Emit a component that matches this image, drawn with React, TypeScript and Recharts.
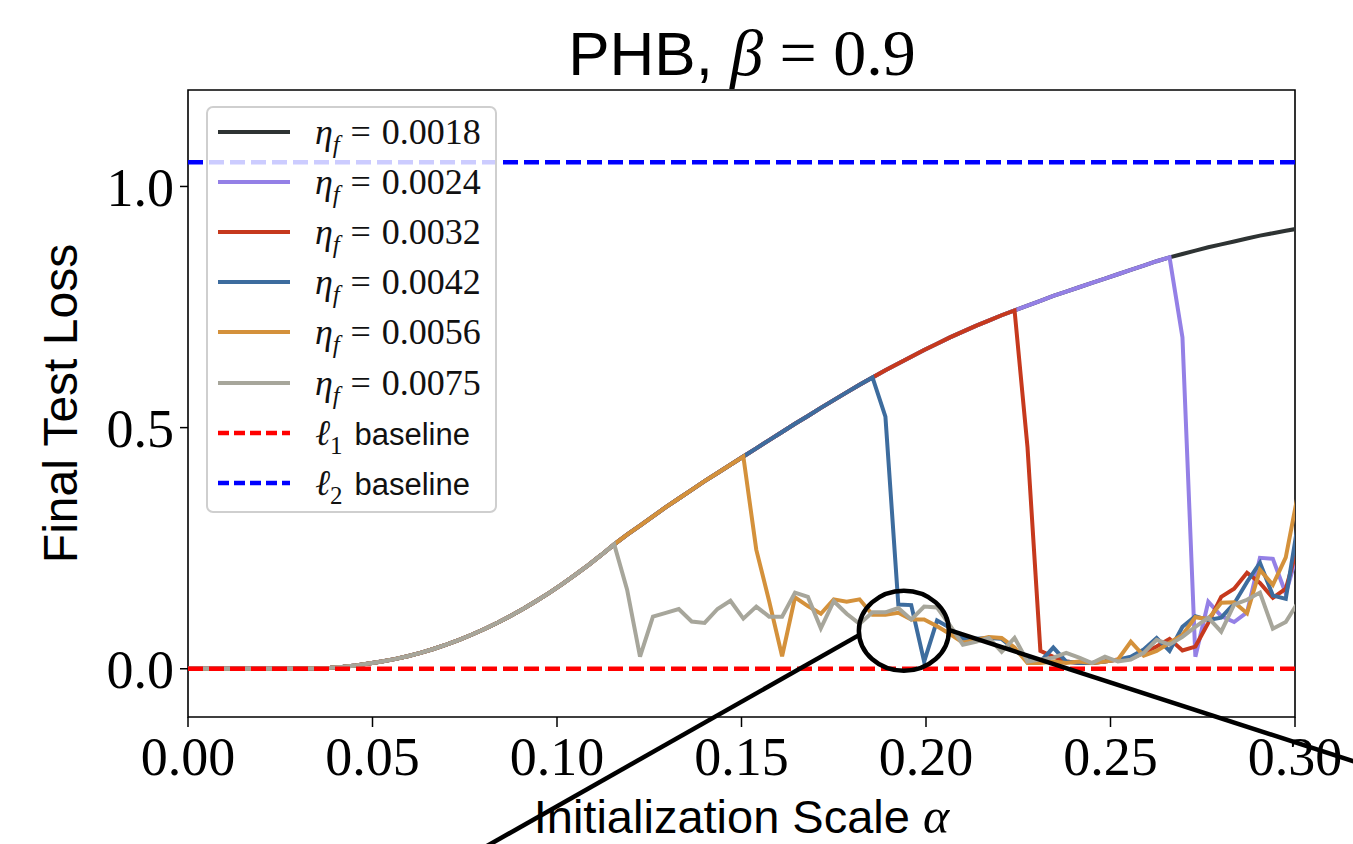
import { LineChart, Line, XAxis, YAxis, Legend, ReferenceLine, ReferenceDot, ReferenceArea } from "recharts"

// initialization scale alpha (x grid)
const ALPHA = [
  0, 0.0035, 0.007, 0.0105, 0.014, 0.0175, 0.021, 0.0245, 0.028, 0.0315,
  0.035, 0.0385, 0.042, 0.0455, 0.049, 0.0525, 0.056, 0.0595, 0.063, 0.0665,
  0.07, 0.0735, 0.077, 0.0805, 0.084, 0.0875, 0.091, 0.0945, 0.098, 0.1015,
  0.105, 0.1085, 0.112, 0.1155, 0.119, 0.1225, 0.126, 0.1295, 0.133, 0.1365,
  0.14, 0.1435, 0.147, 0.1505, 0.154, 0.1575, 0.161, 0.1645, 0.168, 0.1715,
  0.175, 0.1785, 0.182, 0.1855, 0.189, 0.1925, 0.196, 0.1995, 0.203, 0.2065,
  0.21, 0.2135, 0.217, 0.2205, 0.224, 0.2275, 0.231, 0.2345, 0.238, 0.2415,
  0.245, 0.2485, 0.252, 0.2555, 0.259, 0.2625, 0.266, 0.2695, 0.273, 0.2765,
  0.28, 0.2835, 0.287, 0.2905, 0.294, 0.2975, 0.301,
]

// shared smooth branch (all runs follow it before they drop)
const SMOOTH = [
  0, 0, 0, 0, 0, 0, 0, 0, 0, 0.0005,
  0.001, 0.002, 0.004, 0.007, 0.011, 0.015, 0.02, 0.026, 0.033, 0.041,
  0.05, 0.06, 0.071, 0.083, 0.096, 0.11, 0.125, 0.141, 0.158, 0.176,
  0.195, 0.215, 0.236, 0.258, 0.278, 0.297, 0.316, 0.335, 0.353, 0.371,
  0.389, 0.406, 0.423, 0.44, 0.457, 0.474, 0.491, 0.508, 0.524, 0.541,
  0.557, 0.573, 0.589, 0.604, 0.619, 0.633, 0.647, 0.661, 0.674, 0.687,
  0.699, 0.711, 0.722, 0.733, 0.743, 0.753, 0.763, 0.773, 0.782, 0.791,
  0.8, 0.809, 0.818, 0.827, 0.836, 0.845, 0.853, 0.86, 0.867, 0.874,
  0.88, 0.886, 0.892, 0.898, 0.903, 0.908, 0.913,
]

// values after each run leaves the smooth branch
const TAIL_0024 = [0.687, 0.025, 0.139, 0.109, 0.097, 0.117, 0.23, 0.228, 0.156, 0.25]
const TAIL_0032 = [
  0.46, 0.037, 0.025, 0.015, 0.012, 0.012, 0.015, 0.019, 0.021, 0.033,
  0.046, 0.062, 0.038, 0.046, 0.095, 0.149, 0.166, 0.199, 0.178, 0.147,
  0.166, 0.26,
]
const TAIL_0042 = [
  0.523, 0.133, 0.132, 0.015, 0.1, 0.085, 0.062, 0.062, 0.064, 0.062,
  0.04, 0.018, 0.015, 0.044, 0.015, 0.012, 0.012, 0.015, 0.019, 0.025,
  0.04, 0.064, 0.037, 0.087, 0.109, 0.101, 0.106, 0.135, 0.18, 0.22,
  0.152, 0.145, 0.31,
]
const TAIL_0056 = [
  0.247, 0.14, 0.026, 0.148, 0.13, 0.114, 0.144, 0.139, 0.144, 0.112,
  0.112, 0.116, 0.102, 0.102, 0.088, 0.072, 0.054, 0.06, 0.066, 0.064,
  0.044, 0.012, 0.012, 0.015, 0.012, 0.015, 0.012, 0.015, 0.019, 0.056,
  0.027, 0.037, 0.054, 0.07, 0.107, 0.103, 0.137, 0.138, 0.115, 0.205,
  0.174, 0.231, 0.37,
]
const TAIL_0075 = [
  0.164, 0.025, 0.108, 0.116, 0.124, 0.098, 0.095, 0.124, 0.141, 0.104,
  0.129, 0.108, 0.108, 0.158, 0.149, 0.084, 0.14, 0.114, 0.093, 0.117,
  0.117, 0.126, 0.102, 0.129, 0.127, 0.09, 0.05, 0.056, 0.064, 0.035,
  0.064, 0.015, 0.019, 0.023, 0.033, 0.023, 0.012, 0.025, 0.015, 0.019,
  0.033, 0.06, 0.05, 0.066, 0.087, 0.106, 0.077, 0.133, 0.143, 0.158,
  0.083, 0.097, 0.14,
]

const X_TICKS = [0, 0.05, 0.1, 0.15, 0.2, 0.25, 0.3]
const Y_TICKS = [0, 0.5, 1.0]
const L1_BASELINE = 0
const L2_BASELINE = 1.05

const join = (tail: number[]) => [...SMOOTH.slice(0, SMOOTH.length - tail.length), ...tail]

const SERIES = [
  { key: "e0018", eta: "0.0018", color: "#2e3333", values: SMOOTH },
  { key: "e0024", eta: "0.0024", color: "#9480e6", values: join(TAIL_0024) },
  { key: "e0032", eta: "0.0032", color: "#c6391d", values: join(TAIL_0032) },
  { key: "e0042", eta: "0.0042", color: "#3d6c9e", values: join(TAIL_0042) },
  { key: "e0056", eta: "0.0056", color: "#d4913b", values: join(TAIL_0056) },
  { key: "e0075", eta: "0.0075", color: "#a7a69b", values: join(TAIL_0075) },
]

const data = ALPHA.map((a, i) => {
  const row: Record<string, number> = { alpha: a }
  SERIES.forEach((s) => (row[s.key] = s.values[i]))
  return row
})

const SERIF = '"Liberation Serif", "DejaVu Serif", serif'
const SANS = '"Liberation Sans", Arial, sans-serif'
const tickStyle = { fill: "#000", fontSize: 54, fontFamily: SERIF }
const DASH = "15 6"

const mathItalic = { fontFamily: SERIF, fontStyle: "italic" as const }

function LegendBox() {
  const rows = [
    ...SERIES.map((s) => ({ color: s.color, dash: undefined as string | undefined, kind: "eta", text: s.eta })),
    { color: "#ff0000", dash: "11 5", kind: "l", text: "1" },
    { color: "#0000ff", dash: "11 5", kind: "l", text: "2" },
  ]
  return (
    <div
      style={{
        width: 291,
        height: 407,
        boxSizing: "border-box",
        border: "2px solid #cfcfcf",
        borderRadius: 7,
        background: "rgba(255,255,255,0.8)",
        position: "relative",
      }}
    >
      {rows.map((r, i) => (
        <div key={i} style={{ position: "absolute", left: 0, top: -1 + i * 50.1, height: 50, width: "100%" }}>
          <svg style={{ position: "absolute", left: 8, top: 0 }} width={76} height={50}>
            <line x1={2} x2={74} y1={25} y2={25} stroke={r.color} strokeWidth={r.dash ? 4.5 : 4} strokeDasharray={r.dash} />
          </svg>
          <div
            style={{
              position: "absolute",
              left: 107,
              top: 0,
              height: 50,
              lineHeight: "50px",
              whiteSpace: "nowrap",
              fontFamily: SERIF,
              fontSize: 36,
              color: "#111",
            }}
          >
            {r.kind === "eta" ? (
              <>
                <span style={mathItalic}>η</span>
                <sub style={{ ...mathItalic, fontSize: 25, verticalAlign: "-9px", lineHeight: 0 }}>f</sub>
                <span style={{ margin: "0 0.3em" }}>=</span>
                {r.text}
              </>
            ) : (
              <>
                <span style={mathItalic}>ℓ</span>
                <sub style={{ fontFamily: SERIF, fontSize: 25, verticalAlign: "-9px", lineHeight: 0 }}>{r.text}</sub>
                <span style={{ fontFamily: SANS, fontSize: 31, marginLeft: 12 }}>baseline</span>
              </>
            )}
          </div>
        </div>
      ))}
    </div>
  )
}

function ZoomMarker(props: any) {
  const { cx, cy } = props
  if (cx == null || cy == null) return null
  return (
    <g>
      <ellipse cx={cx} cy={cy} rx={45} ry={40} fill="none" stroke="#000" strokeWidth={4.5} />
      <line x1={cx - 44} y1={cy + 4} x2={cx - 44 - 900} y2={cy + 4 + 510} stroke="#000" strokeWidth={4.5} />
      <line x1={cx + 44} y1={cy - 1} x2={cx + 44 + 900} y2={cy - 1 + 292} stroke="#000" strokeWidth={4.5} />
    </g>
  )
}

export default function App() {
  return (
    <div style={{ position: "absolute", left: 0, top: 0, width: 1353, height: 844, background: "#fff" }}>
      <svg style={{ position: "absolute", left: 0, top: 0, pointerEvents: "none" }} width={1353} height={90}>
        <text x={742} y={75} textAnchor="middle" fontSize={62} fill="#000">
          <tspan fontFamily={SANS}>PHB, </tspan>
          <tspan fontFamily={SERIF} fontStyle="italic" fontSize={66}>β</tspan>
          <tspan fontFamily={SERIF} fontSize={66}> = 0.9</tspan>
        </text>
      </svg>
      <LineChart width={1353} height={844} data={data} margin={{ top: 90, right: 58, bottom: 0, left: 0 }}>
        <XAxis
          dataKey="alpha"
          type="number"
          domain={[0, 0.3]}
          allowDataOverflow
          ticks={X_TICKS}
          interval={0}
          tickFormatter={(v: number) => v.toFixed(2)}
          tick={tickStyle}
          tickSize={10}
          tickMargin={10}
          tickLine={{ stroke: "#000", strokeWidth: 1.5 }}
          axisLine={false}
          height={127}
          label={{
            content: (p: any) => {
              const vb = p.viewBox || { x: 188, y: 717, width: 1107 }
              return (
                <text x={vb.x + vb.width / 2} y={vb.y + 116} textAnchor="middle" fontFamily={SANS} fontSize={47} fill="#000">
                  Initialization Scale <tspan fontFamily={SERIF} fontStyle="italic" fontSize={50}>α</tspan>
                </text>
              )
            },
          }}
        />
        <YAxis
          type="number"
          domain={[-0.1, 1.2]}
          allowDataOverflow
          ticks={Y_TICKS}
          interval={0}
          tickFormatter={(v: number) => v.toFixed(1)}
          tick={tickStyle}
          tickSize={8}
          tickMargin={6}
          tickLine={{ stroke: "#000", strokeWidth: 1.5 }}
          axisLine={false}
          width={188}
          label={{
            content: (p: any) => {
              const vb = p.viewBox || { x: 0, y: 90, height: 627 }
              const cy = vb.y + vb.height / 2
              return (
                <text x={77} y={cy} transform={`rotate(-90, 77, ${cy})`} textAnchor="middle" fontFamily={SANS} fontSize={48} fill="#000">
                  Final Test Loss
                </text>
              )
            },
          }}
        />
        {SERIES.map((s) => (
          <Line
            key={s.key}
            type="linear"
            dataKey={s.key}
            name={`eta_f = ${s.eta}`}
            stroke={s.color}
            strokeWidth={4}
            dot={false}
            activeDot={false}
            isAnimationActive={false}
          />
        ))}
        <ReferenceLine y={L1_BASELINE} stroke="#ff0000" strokeWidth={4.5} strokeDasharray={DASH} />
        <ReferenceLine y={L2_BASELINE} stroke="#0000ff" strokeWidth={4.5} strokeDasharray={DASH} />
        <ReferenceDot x={0.194} y={0.079} ifOverflow="visible" shape={(p: any) => <ZoomMarker {...p} />} />
        <ReferenceArea x1={0} x2={0.3} y1={-0.1} y2={1.2} fill="none" stroke="#000" strokeWidth={1.6} fillOpacity={0} />
        <Legend
          layout="vertical"
          align="center"
          verticalAlign="middle"
          content={() => <LegendBox />}
          wrapperStyle={{ left: 206, top: 106, width: 291, height: 407 }}
        />
      </LineChart>
    </div>
  )
}
